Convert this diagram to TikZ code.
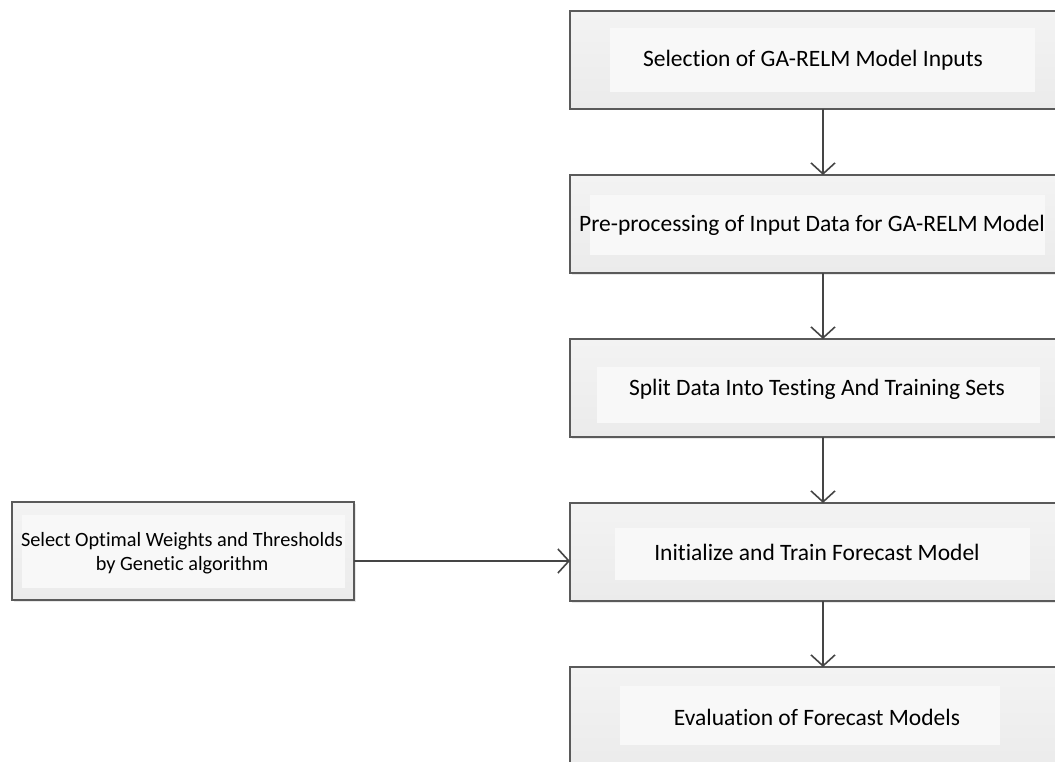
\documentclass[tikz,border=0pt]{standalone}
\usepackage{fontspec}
\setmainfont{Carlito}[RawFeature=-liga]
\usetikzlibrary{arrows.meta,shadows}
\definecolor{boxborder}{HTML}{5A5A5A}
\definecolor{arrowcol}{HTML}{454545}
\definecolor{innerfill}{HTML}{F8F8F8}
\definecolor{outertop}{HTML}{F3F3F3}
\definecolor{outerbot}{HTML}{EBEBEB}
\tikzset{
  x=1pt,y=-1pt,
  flowbox/.style={draw=boxborder, line width=1.4pt, top color=outertop, bottom color=outerbot,
    drop shadow={shadow xshift=1.5pt, shadow yshift=-1.5pt, fill=gray!35, opacity=0.5}},
  innerbox/.style={fill=innerfill, draw=none},
  boxtext/.style={font=\fontsize{23.5}{28}\selectfont, align=center, text=black},
  sidetext/.style={font=\fontsize{20.3}{24.5}\selectfont, align=center, text=black},
  flowarrow/.style={draw=arrowcol, line width=1.6pt, -{Straight Barb[length=11pt,width=24pt,line width=1.6pt]}}
}
\begin{document}
\begin{tikzpicture}
\useasboundingbox (0,0) rectangle (1055,762);
\begin{scope}
\clip (0,0) rectangle (1055,762);
% right column boxes
\path[flowbox] (570,11) rectangle (1058,109);
\path[innerbox] (610,28) rectangle (1035,92);
\path[flowbox] (570,175) rectangle (1058,273);
\path[innerbox] (590,195) rectangle (1045,255);
\path[flowbox] (570,339) rectangle (1058,437);
\path[innerbox] (597,367) rectangle (1040,423);
\path[flowbox] (570,503) rectangle (1058,601);
\path[innerbox] (615,528) rectangle (1030,580);
\path[flowbox] (570,667) rectangle (1058,770);
\path[innerbox] (620,686) rectangle (1000,745);
% left box
\path[flowbox] (12,502) rectangle (354,600);
\path[innerbox] (22,515) rectangle (345,588);
\end{scope}
\node[boxtext] (b1) at (813,60) {Selection of GA-RELM Model Inputs};
\node[boxtext] (b2) at (812,225) {Pre-processing of Input Data for GA-RELM Model};
\node[boxtext] (b3) at (817,389) {Split Data Into Testing And Training Sets};
\node[boxtext] (b4) at (817,552) {Initialize and Train Forecast Model};
\node[boxtext] (b5) at (817,717) {Evaluation of Forecast Models};
\node[sidetext] (ga) at (182,553) {Select Optimal Weights and Thresholds\\by Genetic algorithm};
% connector anchor coordinates on box borders
\coordinate (b1s) at (823,109);
\coordinate (b2n) at (823,175);
\coordinate (b2s) at (823,273);
\coordinate (b3n) at (823,339);
\coordinate (b3s) at (823,437);
\coordinate (b4n) at (823,503);
\coordinate (b4s) at (823,601);
\coordinate (b5n) at (823,667);
\coordinate (gae) at (354,561);
\coordinate (b4w) at (570,561);
\draw[flowarrow] (b1s) -- (b2n);
\draw[flowarrow] (b2s) -- (b3n);
\draw[flowarrow] (b3s) -- (b4n);
\draw[flowarrow] (b4s) -- (b5n);
\draw[flowarrow] (gae) -- (b4w);
\end{tikzpicture}
\end{document}
